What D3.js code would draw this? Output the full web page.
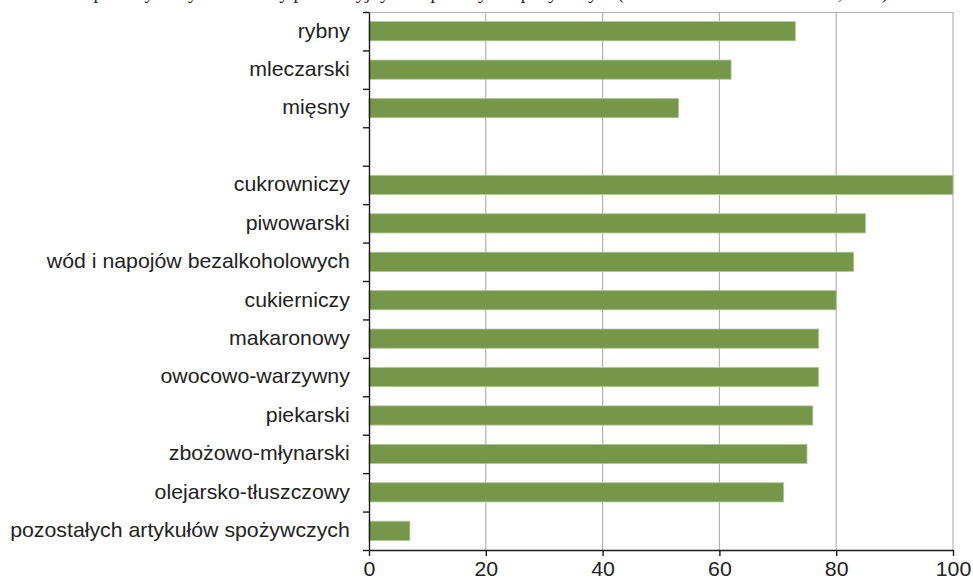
<!DOCTYPE html>
<html>
<head>
<meta charset="utf-8">
<script src="https://cdn.jsdelivr.net/npm/d3@7"></script>
<style>
  html, body { margin: 0; padding: 0; background: #ffffff; }
  svg { display: block; }
</style>
</head>
<body>
<svg id="chart" width="973" height="583"></svg>
<script>
// ---- data ----
const titleText = "Stopień wykorzystania mocy produkcyjnych w przemyśle spożywczym (średnio w latach 2011–2012, w %)";
const categories = [
  "rybny", "mleczarski", "mięsny", " ",
  "cukrowniczy", "piwowarski", "wód i napojów bezalkoholowych", "cukierniczy",
  "makaronowy", "owocowo-warzywny", "piekarski", "zbożowo-młynarski",
  "olejarsko-tłuszczowy", "pozostałych artykułów spożywczych"
];
const values = [73, 62, 53, null, 100, 85, 83, 80, 77, 77, 76, 75, 71, 7];
const xTicks = [0, 20, 40, 60, 80, 100];

// ---- layout ----
const svg = d3.select("#chart");
const mLeft = 369, mRight = 953, mTop = 12, mBottom = 550;
const labelFont = "'Liberation Sans', Arial, sans-serif";
const stretch = 1.065;

const x = d3.scaleLinear().domain([0, 100]).range([mLeft, mRight]);
const y = d3.scaleBand().domain(categories).range([mTop, mBottom])
  .paddingInner(0.5).paddingOuter(0.25);
const yIdx = d3.scaleLinear().domain([0, categories.length]).range([mTop, mBottom]);

// title (cut off at the top of the picture, as in the reference)
svg.append("text")
  .attr("x", 478).attr("y", -1.5)
  .attr("text-anchor", "middle")
  .attr("font-family", "'Liberation Serif', 'Times New Roman', serif")
  .attr("font-size", 19)
  .attr("fill", "#222")
  .text(titleText);

// gridlines
svg.append("g").selectAll("line")
  .data(xTicks.filter(d => d > 0))
  .join("line")
  .attr("x1", d => x(d)).attr("x2", d => x(d))
  .attr("y1", mTop).attr("y2", mBottom)
  .attr("stroke", "#b4b4b4").attr("stroke-width", 1.2);
svg.append("line")
  .attr("x1", mLeft).attr("x2", mRight)
  .attr("y1", mTop + 0.5).attr("y2", mTop + 0.5)
  .attr("stroke", "#b4b4b4").attr("stroke-width", 1);

// bars
svg.append("g").selectAll("rect")
  .data(categories.map((c, i) => ({ c, v: values[i] })).filter(d => d.v !== null))
  .join("rect")
  .attr("x", x(0))
  .attr("y", d => y(d.c))
  .attr("width", d => x(d.v) - x(0))
  .attr("height", y.bandwidth())
  .attr("fill", "#76964a")
  .attr("stroke", "#b2c896")
  .attr("stroke-width", 0.8);

// left axis: ticks at band boundaries
const yTickAxis = svg.append("g")
  .attr("transform", `translate(${mLeft},0)`)
  .call(d3.axisLeft(yIdx).tickValues(d3.range(categories.length + 1))
    .tickFormat("").tickSize(6).tickSizeOuter(0));
yTickAxis.selectAll("path, line").attr("stroke", "#1a1a1a").attr("stroke-width", 1.4);

// left axis labels
const yLabelAxis = svg.append("g")
  .attr("transform", `translate(${mLeft},0)`)
  .call(d3.axisLeft(y).tickSize(0).tickPadding(18));
yLabelAxis.select(".domain").remove();
yLabelAxis.selectAll("text")
  .attr("font-family", labelFont)
  .attr("font-size", 20)
  .attr("fill", "#222")
  .attr("transform", `scale(${stretch},1)`);

// bottom axis
const xAxis = svg.append("g")
  .attr("transform", `translate(0,${mBottom})`)
  .call(d3.axisBottom(x).tickValues(xTicks).tickSize(6).tickSizeOuter(0).tickPadding(6));
xAxis.selectAll("path, line").attr("stroke", "#1a1a1a").attr("stroke-width", 1.4);
xAxis.selectAll("text")
  .attr("font-family", labelFont)
  .attr("font-size", 20)
  .attr("fill", "#222")
  .attr("transform", `scale(${stretch},1)`);
</script>
</body>
</html>
